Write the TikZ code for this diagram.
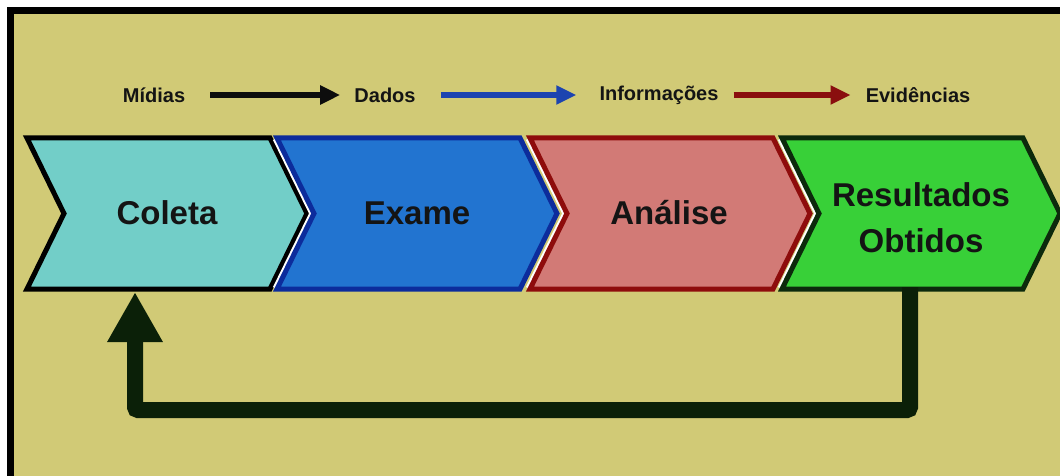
\documentclass[tikz,border=0pt]{standalone}
\usepackage{fontspec}
\setmainfont{Liberation Sans}
\usetikzlibrary{arrows.meta}
\definecolor{bg}{HTML}{D1CA76}
\definecolor{colfill}{HTML}{72CEC8}
\definecolor{exfill}{HTML}{2274D0}
\definecolor{exdraw}{HTML}{0C2C9C}
\definecolor{anfill}{HTML}{D27A76}
\definecolor{andraw}{HTML}{8E0C0C}
\definecolor{refill}{HTML}{38D038}
\definecolor{redraw}{HTML}{0C2A0C}
\definecolor{fbcol}{HTML}{0B2008}
\definecolor{txt}{HTML}{141414}
\definecolor{arrblue}{HTML}{1C44B0}
\definecolor{arrred}{HTML}{8A0E0E}
\newcommand\chevronshape[4]{%
  \path[shift={(#1,0)},fill=#2,draw=#3,line width=5pt,line join=miter]
    (0,138) -- (#4,138) -- ({#4+37},213.5) -- (#4,289) -- (0,289) -- (37,213.5) -- cycle;}
\newcommand\notchline[1]{%
  \draw[shift={(#1,0)},white,line width=9pt] (0,138) -- (37,213.5) -- (0,289);}
\begin{document}
\begin{tikzpicture}[x=1pt,y=-1pt,
  lbl/.style={font=\bfseries\fontsize{33}{46}\selectfont,text=txt,align=center,inner sep=0pt},
  toplbl/.style={font=\bfseries\fontsize{20}{24}\selectfont,text=txt,inner sep=0pt},
  toparr/.style={line width=6pt,-{Triangle[length=20pt,width=18pt]}},
  fb/.style={draw=fbcol,line width=16pt,rounded corners=3pt,-{Triangle[length=50pt,width=52pt]}}]
\useasboundingbox (0,0) rectangle (1060,476);
\fill[white] (0,0) rectangle (1060,476);
\fill[bg] (10,11) rectangle (1065,480);
\draw[line width=7pt] (10,480) -- (10,11) -- (1065,11);
% top labels
\node[toplbl] (midias) at (154,95) {Mídias};
\node[toplbl] (dados) at (385,95) {Dados};
\node[toplbl] (info) at (659,95) {Informações};
\node[toplbl] (evid) at (918,95) {Evidências};
\draw[toparr,draw=black!95,shorten <=25pt,shorten >=14pt] (midias) -- (dados);
\draw[toparr,draw=arrblue,shorten <=25pt,shorten >=23pt] (dados) -- (info);
\draw[toparr,draw=arrred,shorten <=15pt,shorten >=15pt] (info) -- (evid);
% chevrons
\chevronshape{27}{colfill}{black}{243}
\notchline{277}
\chevronshape{277}{exfill}{exdraw}{243}
\notchline{530}
\chevronshape{530}{anfill}{andraw}{243}
\notchline{782}
\chevronshape{782}{refill}{redraw}{241}
\node[lbl] (coleta) at (167,213) {Coleta};
\node[lbl] (exame) at (417,213) {Exame};
\node[lbl] (analise) at (669,213) {Análise};
\node[lbl] (result) at (921,218) {Resultados\\Obtidos};
% feedback
\coordinate (rb) at (910,287);
\coordinate (turn) at (910,410);
\coordinate (cb) at (135,292);
\draw[fb] (rb) -- (turn) -| (cb);
\end{tikzpicture}
\end{document}
